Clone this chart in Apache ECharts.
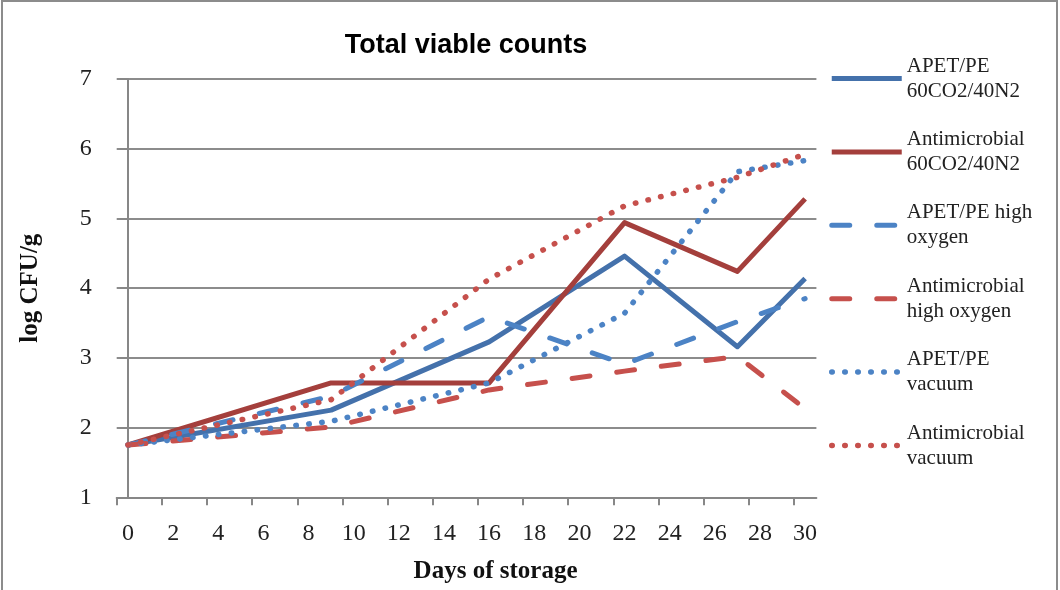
<!DOCTYPE html>
<html>
<head>
<meta charset="utf-8">
<script src="https://cdn.jsdelivr.net/npm/echarts@6/dist/echarts.min.js"></script>
<style>
  html, body { margin: 0; padding: 0; background: #ffffff; }
  #chart { width: 1060px; height: 590px; }
</style>
</head>
<body>
<div id="chart"></div>
<script>
// ---- data ----
const days = [0, 9, 16, 22, 27, 30];
const seriesNames = [
  'APET/PE\n60CO2/40N2',
  'Antimicrobial\n60CO2/40N2',
  'APET/PE high\noxygen',
  'Antimicrobial\nhigh oxygen',
  'APET/PE\nvacuum',
  'Antimicrobial\nvacuum'
];
const apetMap       = [1.75, 2.25, 3.23, 4.46, 3.16, 4.14];
const antiMap       = [1.75, 2.64, 2.64, 4.94, 4.24, 5.28];
const apetHighO2    = [1.75, 2.45, 3.59, 2.91, 3.52, 3.85];
const antiHighO2    = [1.75, 2.01, 2.54, 2.81, 3.02, 2.27];
const apetVacuum    = [1.75, 2.09, 2.64, 3.64, 5.67, 5.83];
const antiVacuum    = [1.75, 2.40, 4.13, 5.18, 5.59, 5.92];
const xTickLabels = [0, 2, 4, 6, 8, 10, 12, 14, 16, 18, 20, 22, 24, 26, 28, 30];
const xTickMarks  = [-0.5, 1.5, 3.5, 5.5, 7.5, 9.5, 11.5, 13.5, 15.5, 17.5, 19.5, 21.5, 23.5, 25.5, 27.5, 29.5];

const allValues = [apetMap, antiMap, apetHighO2, antiHighO2, apetVacuum, antiVacuum];
const colors = ['#4471ab', '#a43f3c', '#4c83c5', '#c6504c', '#4c83c5', '#c6504c'];
const styles = ['solid', 'solid', 'dashed', 'dashed', 'dotted', 'dotted'];

function dashFor(s) {
  if (s === 'dashed') return [18, 27];
  if (s === 'dotted') return [0.5, 12.5];
  return 'solid';
}

const serifFont = '"Liberation Serif", "DejaVu Serif", serif';

const series = allValues.map((vals, i) => ({
  name: seriesNames[i],
  type: 'line',
  symbol: 'none',
  showSymbol: false,
  smooth: false,
  animation: false,
  data: days.map((d, j) => [d, vals[j]]),
  lineStyle: {
    color: colors[i],
    width: styles[i] === 'dotted' ? 5.5 : 5,
    type: dashFor(styles[i]),
    cap: styles[i] === 'solid' ? 'butt' : 'round',
    join: 'round'
  },
  itemStyle: { color: colors[i], opacity: 0 },
  z: 2 + i
}));

const chart = echarts.init(document.getElementById('chart'), null, { renderer: 'canvas' });
chart.setOption({
  animation: false,
  backgroundColor: '#ffffff',
  grid: {
    left: 116.7, right: 243.6, top: 79, bottom: 92.7,
    containLabel: false,
    outerBoundsMode: 'none'
  },
  graphic: [
    {
      type: 'rect',
      shape: { x: 2, y: 1, width: 1055, height: 620 },
      style: { fill: 'none', stroke: '#8c8c8c', lineWidth: 2 },
      silent: true
    },
    {
      type: 'text',
      x: 466, y: 46,
      style: {
        text: 'Total viable counts',
        font: 'bold 27px "Liberation Sans", Arial, sans-serif',
        fill: '#000000',
        textAlign: 'center',
        textVerticalAlign: 'middle'
      }
    }
  ],
  legend: {
    orient: 'vertical',
    left: 829,
    top: 41,
    padding: 0,
    itemWidth: 70,
    itemHeight: 14,
    itemGap: -1.6,
    data: seriesNames,
    itemStyle: { opacity: 0, borderWidth: 0 },
    lineStyle: { width: 'inherit' },
    textStyle: {
      fontFamily: serifFont,
      fontSize: 21,
      lineHeight: 25,
      color: '#222222',
      padding: [25, 0, 0, 0]
    }
  },
  xAxis: {
    type: 'value',
    min: -0.5,
    max: 30.5,
    name: 'Days of storage',
    nameLocation: 'middle',
    nameGap: 62,
    nameTextStyle: {
      fontFamily: serifFont,
      fontWeight: 'bold',
      fontSize: 25,
      color: '#111111',
      padding: [0, 0, 0, 58]
    },
    axisLine: { show: true, lineStyle: { color: '#878787', width: 2 } },
    axisTick: {
      show: true, length: 8, inside: false,
      customValues: xTickMarks,
      lineStyle: { color: '#878787', width: 2 }
    },
    axisLabel: {
      customValues: xTickLabels,
      margin: 24,
      fontFamily: serifFont,
      fontSize: 24,
      color: '#222222'
    },
    splitLine: { show: false }
  },
  yAxis: {
    type: 'value',
    min: 1,
    max: 7,
    interval: 1,
    name: 'log CFU/g',
    nameLocation: 'middle',
    nameGap: 74,
    nameRotate: 90,
    nameTextStyle: {
      fontFamily: serifFont,
      fontWeight: 'bold',
      fontSize: 25,
      color: '#111111'
    },
    axisLine: { show: true, lineStyle: { color: '#878787', width: 2 } },
    axisTick: { show: true, length: 8, inside: false, lineStyle: { color: '#878787', width: 2 } },
    axisLabel: {
      margin: 25,
      fontFamily: serifFont,
      fontSize: 24,
      color: '#222222'
    },
    splitLine: { show: true, lineStyle: { color: '#8c8c8c', width: 2 } }
  },
  series: series
});
</script>
</body>
</html>
